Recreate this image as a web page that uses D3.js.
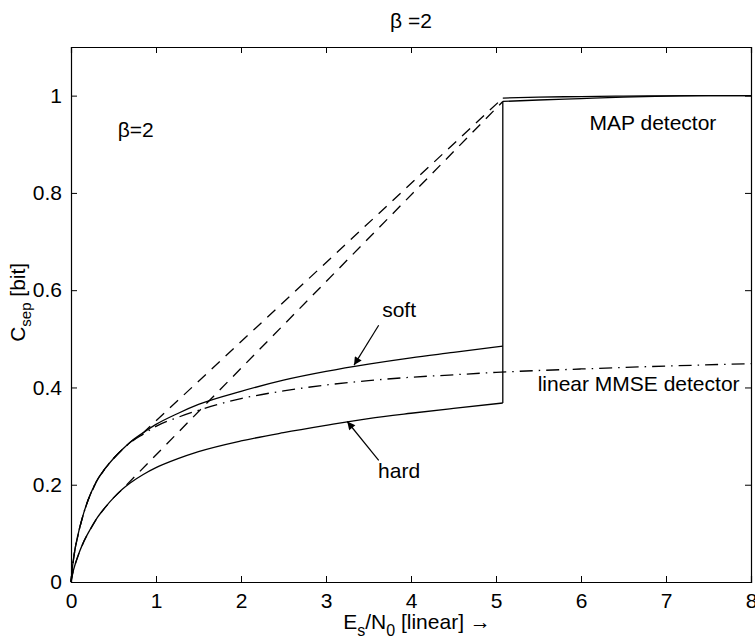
<!DOCTYPE html>
<html>
<head>
<meta charset="utf-8">
<script src="https://cdn.jsdelivr.net/npm/d3@7"></script>
<style>
	body { margin: 0; background: #fff; }
	svg text { font-family: "Liberation Sans", Arial, Helvetica, sans-serif; fill: #000; }
</style>
</head>
<body>
<div id="chart"></div>
<script>
// data
var xTicks = [0, 1, 2, 3, 4, 5, 6, 7, 8];
var yTicks = [0, 0.2, 0.4, 0.6, 0.8, 1];

var curveX = [0, 0.02, 0.05, 0.1, 0.15, 0.2, 0.3, 0.4, 0.5, 0.6, 0.7, 0.85, 1.0, 1.25, 1.5, 2.0, 2.5, 3.0, 3.5, 4.0, 4.5, 5.08];
var softY  = [0, 0.035, 0.07, 0.11, 0.142, 0.168, 0.207, 0.233, 0.254, 0.272, 0.288, 0.307, 0.324, 0.346, 0.365, 0.392, 0.415, 0.433, 0.448, 0.461, 0.472, 0.485];
var hardY  = [0, 0.018, 0.037, 0.062, 0.083, 0.1, 0.13, 0.153, 0.173, 0.19, 0.204, 0.221, 0.235, 0.253, 0.268, 0.29, 0.307, 0.322, 0.336, 0.347, 0.357, 0.368];

var mmseX = [0, 0.02, 0.05, 0.1, 0.15, 0.2, 0.3, 0.4, 0.5, 0.6, 0.7, 0.85, 1.0, 1.25, 1.5, 2.0, 2.5, 3.0, 3.5, 4.0, 4.5, 5.0, 6.0, 7.0, 8.0];
var mmseY = [0, 0.035, 0.07, 0.11, 0.142, 0.168, 0.207, 0.233, 0.254, 0.272, 0.287, 0.304, 0.32, 0.338, 0.353, 0.377, 0.393, 0.405, 0.414, 0.421, 0.426, 0.431, 0.438, 0.444, 0.449];

var mapX     = [5.08, 5.5, 6, 6.5, 7, 7.5, 8];
var mapSoftY = [0.995, 0.997, 0.998, 0.999, 0.9995, 1.0, 1.0];
var mapHardY = [0.988, 0.991, 0.994, 0.997, 0.999, 1.0, 1.0];

var dashSoftX = [0, 0.02, 0.05, 0.1, 0.15, 0.2, 0.3, 0.4, 0.5, 0.6, 0.7, 0.85, 5.08];
var dashSoftY = [0, 0.035, 0.07, 0.11, 0.142, 0.168, 0.207, 0.233, 0.254, 0.272, 0.288, 0.307, 0.995];
var dashHardX = [0, 0.02, 0.05, 0.1, 0.15, 0.2, 0.3, 0.4, 0.5, 0.6, 5.08];
var dashHardY = [0, 0.018, 0.037, 0.062, 0.083, 0.1, 0.13, 0.153, 0.173, 0.19, 0.988];

var width = 755, height = 641;
var margin = {top: 47, right: 4, bottom: 59, left: 71};
var fontSize = 21;

var svg = d3.select('#chart').append('svg')
	.attr('width', width)
	.attr('height', height);

var x = d3.scaleLinear().domain([0, 8]).range([margin.left, width - margin.right]);
var y = d3.scaleLinear().domain([0, 1.1]).range([height - margin.bottom, margin.top]);

function pts(xs, ys) {
	return xs.map(function(v, i) { return [v, ys[i]]; });
}

// axes (box with inward ticks on all sides)
var tickLen = 6;
var axB = svg.append('g').attr('transform', 'translate(0,' + y(0) + ')')
	.call(d3.axisBottom(x).tickValues(xTicks).tickSize(-tickLen).tickPadding(9).tickFormat(d3.format('d')));
var axT = svg.append('g').attr('transform', 'translate(0,' + y(1.1) + ')')
	.call(d3.axisTop(x).tickValues(xTicks).tickSize(-tickLen).tickFormat(''));
var axL = svg.append('g').attr('transform', 'translate(' + x(0) + ',0)')
	.call(d3.axisLeft(y).tickValues(yTicks).tickSize(-tickLen).tickPadding(9).tickFormat(function(d) { return d === 0 || d === 1 ? d : d3.format('.1f')(d); }));
var axR = svg.append('g').attr('transform', 'translate(' + x(8) + ',0)')
	.call(d3.axisRight(y).tickValues(yTicks).tickSize(-tickLen).tickFormat(''));

[axB, axT, axL, axR].forEach(function(g) {
	g.select('.domain').attr('stroke', '#000').attr('stroke-width', 1.2);
	g.selectAll('line').attr('stroke', '#000').attr('stroke-width', 1);
	g.selectAll('text').style('font-size', fontSize + 'px').style('font-family', '"Liberation Sans", Arial, sans-serif').attr('fill', '#000');
});
axB.selectAll('text').attr('dy', '0.8em');

// curves
var smooth = d3.line().x(function(d) { return x(d[0]); }).y(function(d) { return y(d[1]); }).curve(d3.curveMonotoneX);
var straight = d3.line().x(function(d) { return x(d[0]); }).y(function(d) { return y(d[1]); });

var plot = svg.append('g').attr('fill', 'none').attr('stroke', '#000').attr('stroke-width', 1.3);

plot.append('path').attr('d', straight(pts(dashSoftX, dashSoftY))).attr('stroke-dasharray', '11,8');
plot.append('path').attr('d', straight(pts(dashHardX, dashHardY))).attr('stroke-dasharray', '11,8');
plot.append('path').attr('d', smooth(pts(mmseX, mmseY))).attr('stroke-dasharray', '13,6,1.5,6');
plot.append('path').attr('d', smooth(pts(curveX, softY)));
plot.append('path').attr('d', smooth(pts(curveX, hardY)));
plot.append('path').attr('d', smooth(pts(mapX, mapSoftY)));
plot.append('path').attr('d', smooth(pts(mapX, mapHardY)));
// jump at the end of the soft/hard curves up to the MAP curve
plot.append('path').attr('d', straight([[curveX[curveX.length - 1], hardY[hardY.length - 1]], [mapX[0], mapHardY[0]]]));

// arrows
svg.append('defs').append('marker')
	.attr('id', 'arrowhead')
	.attr('viewBox', '0 0 10 10')
	.attr('refX', 10).attr('refY', 5)
	.attr('markerWidth', 11).attr('markerHeight', 8)
	.attr('markerUnits', 'userSpaceOnUse')
	.attr('orient', 'auto')
	.append('path').attr('d', 'M0,0 L10,5 L0,10 z').attr('fill', '#000');

function arrow(x0, y0, x1, y1) {
	svg.append('line')
		.attr('x1', x(x0)).attr('y1', y(y0))
		.attr('x2', x(x1)).attr('y2', y(y1))
		.attr('stroke', '#000').attr('stroke-width', 1.2)
		.attr('marker-end', 'url(#arrowhead)');
}
arrow(3.62, 0.528, 3.33, 0.446);
arrow(3.62, 0.250, 3.25, 0.330);

// labels
function label(txt, px, py, anchor) {
	return svg.append('text').attr('x', px).attr('y', py)
		.attr('text-anchor', anchor || 'start')
		.style('font-size', fontSize + 'px')
		.text(txt);
}
label('soft', x(3.86), y(0.545), 'middle');
label('hard', x(3.86), y(0.213), 'middle');
label('MAP detector', x(6.1), y(0.93));
label('linear MMSE detector', x(5.49), y(0.393));
label('\u03b2=2', x(0.55), y(0.915));
label('\u03b2 =2', x(4), 28, 'middle');

// axis titles
var xl = svg.append('text').attr('x', x(4) + 6).attr('y', 629).attr('text-anchor', 'middle').style('font-size', fontSize + 'px');
xl.append('tspan').text('E');
xl.append('tspan').attr('dy', 7).style('font-size', '16px').text('s');
xl.append('tspan').attr('dy', -7).text('/N');
xl.append('tspan').attr('dy', 7).style('font-size', '16px').text('0');
xl.append('tspan').attr('dy', -7).text(' [linear] \u2192');

var yl = svg.append('text').attr('transform', 'translate(25,' + y(0.575) + ') rotate(-90)').attr('text-anchor', 'middle').style('font-size', fontSize + 'px');
yl.append('tspan').text('C');
yl.append('tspan').attr('dy', 6).style('font-size', '15px').text('sep');
yl.append('tspan').attr('dy', -6).text(' [bit]');
</script>
</body>
</html>
